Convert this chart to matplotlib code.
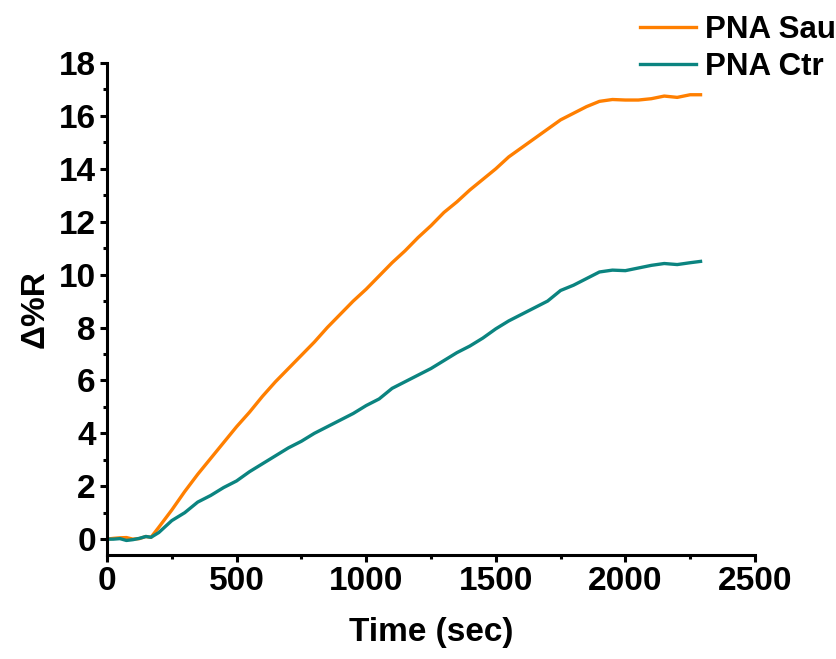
import matplotlib
matplotlib.use('Agg')
import matplotlib.pyplot as plt
from matplotlib.ticker import MultipleLocator

plt.rcParams['font.family'] = ['Liberation Sans', 'DejaVu Sans']
plt.rcParams['font.weight'] = 'bold'

# time (sec)
time = [0, 25, 50, 75, 100, 125, 150, 170, 200, 250, 300, 350, 400, 450, 500,
        550, 600, 650, 700, 750, 800, 850, 900, 950, 1000, 1050, 1100, 1150,
        1200, 1250, 1300, 1350, 1400, 1450, 1500, 1550, 1600, 1650, 1700, 1750,
        1800, 1850, 1900, 1950, 2000, 2050, 2100, 2150, 2200, 2250, 2290]

pna_sau = [0.0, 0.03, 0.05, 0.06, 0.0, 0.02, 0.1, 0.07, 0.45, 1.1, 1.8, 2.45,
           3.05, 3.65, 4.25, 4.8, 5.4, 5.95, 6.45, 6.95, 7.45, 8.0, 8.5, 9.0,
           9.45, 9.95, 10.45, 10.9, 11.4, 11.85, 12.35, 12.75, 13.2, 13.6, 14.0,
           14.45, 14.8, 15.15, 15.5, 15.85, 16.1, 16.35, 16.55, 16.62, 16.6, 16.6,
           16.65, 16.75, 16.7, 16.8, 16.8]

pna_ctr = [0.0, 0.0, 0.02, -0.05, -0.02, 0.03, 0.1, 0.07, 0.25, 0.7, 1.0, 1.4,
           1.65, 1.95, 2.2, 2.55, 2.85, 3.15, 3.45, 3.7, 4.0, 4.25, 4.5, 4.75,
           5.05, 5.3, 5.7, 5.95, 6.2, 6.45, 6.75, 7.05, 7.3, 7.6, 7.95, 8.25,
           8.5, 8.75, 9.0, 9.4, 9.6, 9.85, 10.1, 10.17, 10.15, 10.25, 10.35,
           10.42, 10.38, 10.45, 10.5]

fig = plt.figure(figsize=(8.37, 6.59), dpi=100)
ax = fig.add_axes([0.1278, 0.1578, 0.7742, 0.7466])

ax.plot(time, pna_sau, color='#FF7F00', lw=2.4, label='PNA Sau')
ax.plot(time, pna_ctr, color='#0B8480', lw=2.4, label='PNA Ctr')

ax.set_xlim(0, 2500)
ax.set_ylim(-0.6, 18)
ax.xaxis.set_major_locator(MultipleLocator(500))
ax.xaxis.set_minor_locator(MultipleLocator(250))
ax.yaxis.set_major_locator(MultipleLocator(2))
ax.yaxis.set_minor_locator(MultipleLocator(1))

for s in ['top', 'right']:
    ax.spines[s].set_visible(False)
for s in ['left', 'bottom']:
    ax.spines[s].set_linewidth(2.2)
ax.tick_params(which='major', direction='out', length=5, width=2.2, labelsize=24, pad=3)
ax.tick_params(which='minor', direction='out', length=3, width=2.2)

ax.set_xlabel('Time (sec)', fontsize=24, fontweight='bold', labelpad=14)
ax.set_ylabel('\u0394%R', fontsize=24, fontweight='bold', labelpad=6)

ax.legend(loc='upper left', bbox_to_anchor=(640 / 837, 1 - 15 / 659),
          bbox_transform=fig.transFigure, frameon=False, fontsize=22.5,
          handlelength=1.8, handletextpad=0.28, labelspacing=0.22,
          borderpad=0, borderaxespad=0)

fig.savefig('out.png', dpi=100)
